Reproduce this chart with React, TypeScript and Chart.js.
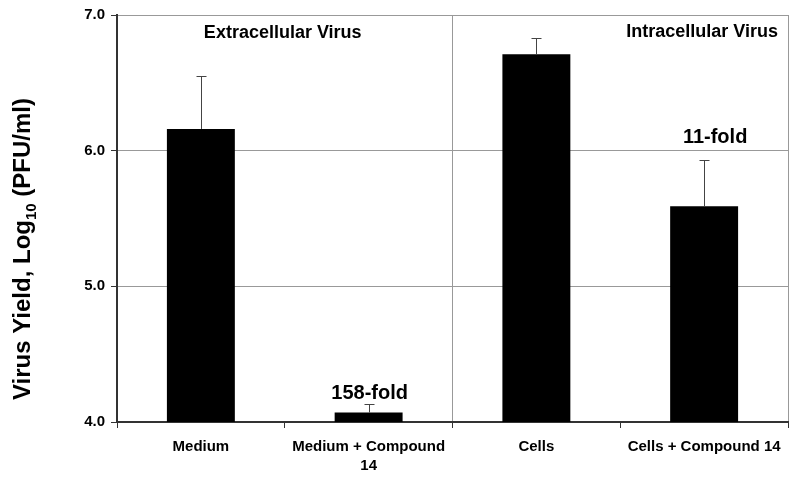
import React, { useEffect, useRef } from "react";
import { Chart, registerables } from "chart.js";

Chart.register(...registerables);

const categories: (string | string[])[] = [
  "Medium",
  ["Medium + Compound", "14"],
  "Cells",
  "Cells + Compound 14",
];
const yieldValues = [6.16, 4.07, 6.71, 5.59];
const errorTops = [6.55, 4.13, 6.83, 5.93];
const foldLabels = ["", "158-fold", "", "11-fold"];
const foldLabelY = [0, 4.17, 0, 6.06];
const foldLabelDx = [0, 1, 0, 11];
const yTicks = [4, 5, 6, 7];
const sectionTitles = ["Extracellular Virus", "Intracellular Virus"];

const FONT = "'Liberation Sans', Arial, Helvetica, sans-serif";

const overlayPlugin = {
  id: "overlay",
  afterDatasetsDraw(chart: any) {
    const ctx = chart.ctx as CanvasRenderingContext2D;
    const meta = chart.getDatasetMeta(0);
    const ys = chart.scales.y;
    const area = chart.chartArea;
    ctx.save();
    // error bars
    ctx.strokeStyle = "#444";
    ctx.lineWidth = 1;
    meta.data.forEach((bar: any, i: number) => {
      const x = Math.round(bar.x) + 0.5;
      const yTop = Math.round(ys.getPixelForValue(errorTops[i])) + 0.5;
      const yBar = bar.y;
      ctx.beginPath();
      ctx.moveTo(x, yBar);
      ctx.lineTo(x, yTop);
      ctx.moveTo(x - 5, yTop);
      ctx.lineTo(x + 5, yTop);
      ctx.stroke();
    });
    // fold labels
    ctx.fillStyle = "#000";
    ctx.font = `bold 20px ${FONT}`;
    ctx.textAlign = "center";
    ctx.textBaseline = "alphabetic";
    meta.data.forEach((bar: any, i: number) => {
      if (!foldLabels[i]) return;
      ctx.fillText(foldLabels[i], bar.x + foldLabelDx[i], ys.getPixelForValue(foldLabelY[i]));
    });
    // section titles
    ctx.font = `bold 18px ${FONT}`;
    const mid = (area.left + area.right) / 2;
    ctx.textAlign = "center";
    ctx.fillText(sectionTitles[0], (area.left + mid) / 2 - 2, area.top + 23);
    ctx.textAlign = "right";
    ctx.fillText(sectionTitles[1], area.right - 10, area.top + 22);
    // y axis title with subscript
    const big = `bold 24px ${FONT}`;
    const small = `bold 15px ${FONT}`;
    const p1 = "Virus Yield, Log";
    const p2 = "10";
    const p3 = " (PFU/ml)";
    ctx.font = big;
    const w1 = ctx.measureText(p1).width;
    const w3 = ctx.measureText(p3).width;
    ctx.font = small;
    const w2 = ctx.measureText(p2).width;
    const total = w1 + w2 + w3;
    ctx.translate(30, 249);
    ctx.rotate(-Math.PI / 2);
    ctx.textAlign = "left";
    let x = -total / 2;
    ctx.font = big;
    ctx.fillText(p1, x, 0);
    x += w1;
    ctx.font = small;
    ctx.fillText(p2, x, 6);
    x += w2;
    ctx.font = big;
    ctx.fillText(p3, x, 0);
    ctx.restore();
  },
};

export default function App() {
  const ref = useRef<HTMLCanvasElement | null>(null);
  useEffect(() => {
    if (!ref.current) return;
    const chart = new Chart(ref.current, {
      type: "bar",
      data: {
        labels: categories,
        datasets: [
          {
            data: yieldValues,
            backgroundColor: "#000",
            borderWidth: 0,
            categoryPercentage: 1,
            barPercentage: 0.405,
          },
        ],
      },
      options: {
        animation: false,
        responsive: false,
        maintainAspectRatio: false,
        layout: { padding: { top: 14, right: 12, left: 0, bottom: 0 } },
        plugins: {
          legend: { display: false },
          tooltip: { enabled: false },
          title: { display: false },
        },
        scales: {
          x: {
            offset: true,
            grid: {
              offset: true,
              color: (c: any) =>
                c.index === 2 || c.index === undefined ? "#999" : "rgba(0,0,0,0)",
              tickColor: "#333",
              tickLength: 6,
              lineWidth: 1,
            },
            border: { color: "#333", width: 2 },
            ticks: {
              color: "#000",
              font: { family: FONT, size: 15, weight: "bold", lineHeight: 1.27 },
              padding: 9,
              maxRotation: 0,
              autoSkip: false,
            },
            afterFit: (s: any) => {
              s.height = 59;
            },
          },
          y: {
            min: 4,
            max: 7,
            afterBuildTicks: (s: any) => {
              s.ticks = yTicks.map((v) => ({ value: v }));
            },
            grid: {
              color: "#999",
              tickColor: "#333",
              tickLength: 6,
              lineWidth: 1,
            },
            border: { color: "#333", width: 2 },
            ticks: {
              color: "#000",
              font: { family: FONT, size: 15, weight: "bold" },
              padding: 6,
              callback: (v: any) => Number(v).toFixed(1),
            },
            afterFit: (s: any) => {
              s.width = 117;
            },
          },
        },
      },
      plugins: [overlayPlugin],
    });
    return () => chart.destroy();
  }, []);
  return (
    <div style={{ position: "fixed", left: 0, top: 0, width: 800, height: 481, background: "#fff" }}>
      <canvas ref={ref} width={800} height={481} style={{ width: 800, height: 481 }} />
    </div>
  );
}
